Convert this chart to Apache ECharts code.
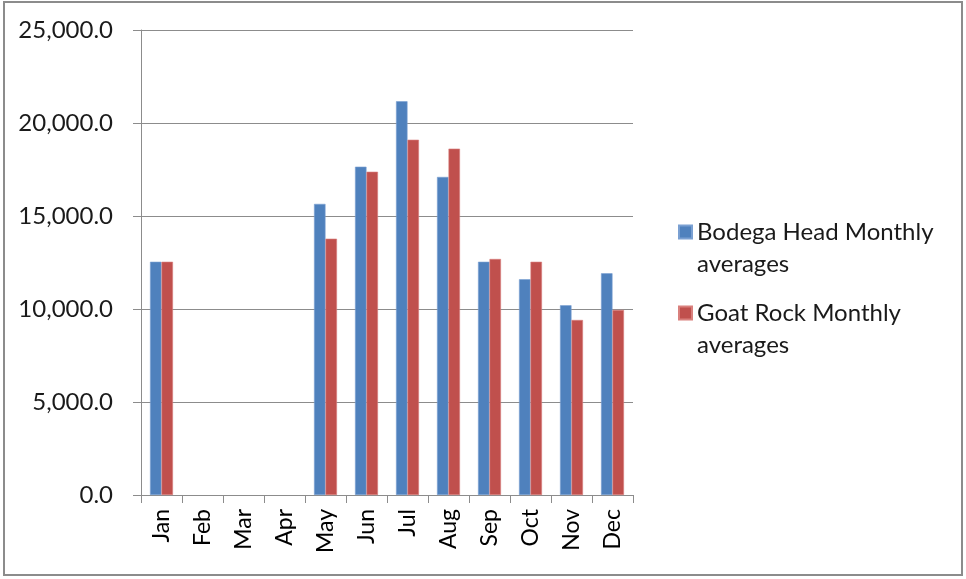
<!DOCTYPE html>
<html>
<head>
<meta charset="utf-8">
<script src="https://cdn.jsdelivr.net/npm/echarts@6/dist/echarts.min.js"></script>
<style>
  html, body { margin: 0; padding: 0; background: #fff; }
  #main { width: 966px; height: 579px; }
</style>
</head>
<body>
<div id="main"></div>
<script>
var months = ["Jan", "Feb", "Mar", "Apr", "May", "Jun", "Jul", "Aug", "Sep", "Oct", "Nov", "Dec"];
var bodegaHead = [12540, null, null, null, 15650, 17650, 21170, 17100, 12540, 11600, 10200, 11920];
var goatRock = [12540, null, null, null, 13780, 17380, 19100, 18620, 12690, 12540, 9410, 9950];
var seriesNames = ["Bodega Head Monthly\naverages", "Goat Rock Monthly\naverages"];

var chart = echarts.init(document.getElementById("main"));
var font = "Lato, 'Liberation Sans', sans-serif";

// square icon sitting at the top of a taller box, so it lines up with the first text line
var legendIcon = "path://M0,0h10v10h-10z M0,34.6";

var option = {
  animation: false,
  backgroundColor: "#fff",
  graphic: [
    {
      type: "rect",
      shape: { x: 4, y: 2, width: 958, height: 573 },
      style: { fill: "none", stroke: "#8c8c8c", lineWidth: 2 }
    }
  ],
  grid: { left: 141, right: 333, top: 30, bottom: 84 },
  legend: {
    orient: "vertical",
    left: 673,
    top: 211,
    itemWidth: 13,
    itemHeight: 45,
    itemGap: 17,
    icon: legendIcon,
    textStyle: {
      fontFamily: font,
      fontSize: 24,
      color: "#1a1a1a",
      lineHeight: 32
    },
    data: seriesNames
  },
  xAxis: {
    type: "category",
    data: months,
    axisLine: { lineStyle: { color: "#8c8c8c", width: 1 } },
    axisTick: { show: true, length: 8, lineStyle: { color: "#8c8c8c" } },
    axisLabel: {
      rotate: 90,
      margin: 14,
      fontFamily: font,
      fontSize: 23,
      color: "#000"
    }
  },
  yAxis: {
    type: "value",
    min: 0,
    max: 25000,
    interval: 5000,
    axisLine: { show: true, lineStyle: { color: "#8c8c8c" } },
    axisTick: { show: true, length: 8, lineStyle: { color: "#8c8c8c" } },
    splitLine: { lineStyle: { color: "#8c8c8c", width: 1 } },
    axisLabel: {
      margin: 28,
      fontFamily: font,
      fontSize: 24,
      color: "#1a1a1a",
      formatter: function (v) {
        return v.toLocaleString("en-US", { minimumFractionDigits: 1, maximumFractionDigits: 1 });
      }
    }
  },
  series: [
    {
      name: seriesNames[0],
      type: "bar",
      data: bodegaHead,
      barGap: "0%",
      barCategoryGap: "44%",
      itemStyle: { color: "#4F81BD", borderColor: "#7aa0d2", borderWidth: 0.6 }
    },
    {
      name: seriesNames[1],
      type: "bar",
      data: goatRock,
      itemStyle: { color: "#C0504D", borderColor: "#d9807d", borderWidth: 0.6 }
    }
  ]
};

chart.setOption(option);
window.onresize = chart.resize;
</script>
</body>
</html>
